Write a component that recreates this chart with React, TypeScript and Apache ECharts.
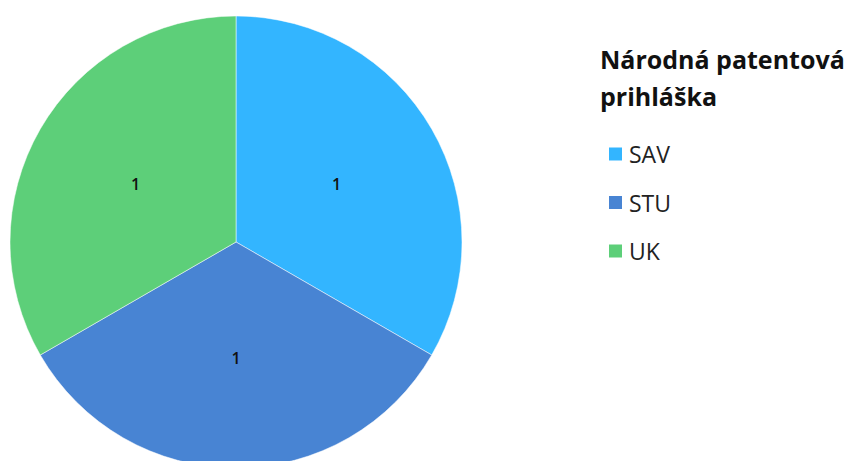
import React, { useEffect, useRef } from "react";
import * as echarts from "echarts";

const titleText = "Národná patentová\nprihláška";
const categories = ["SAV", "STU", "UK"];
const values = [1, 1, 1];
const colors = ["#33b5ff", "#4884d3", "#5dcf79"];

export default function App() {
  const ref = useRef<HTMLDivElement>(null);
  useEffect(() => {
    if (!ref.current) return;
    const chart = echarts.init(ref.current, null, { renderer: "svg" });
    chart.setOption({
      animation: false,
      color: colors,
      title: {
        text: titleText,
        left: 595,
        top: 35,
        textStyle: {
          fontFamily: "Open Sans",
          fontSize: 25,
          fontWeight: "bold",
          color: "#111",
          lineHeight: 37,
        },
      },
      legend: {
        orient: "vertical",
        left: 602,
        top: 136,
        icon: "rect",
        itemWidth: 15,
        itemHeight: 15,
        itemGap: 22.5,
        data: categories,
        textStyle: {
          fontFamily: "Open Sans",
          fontSize: 23,
          color: "#222",
          padding: [0, 0, 0, 1],
          lineHeight: 26,
        },
      },
      series: [
        {
          type: "pie",
          center: [236, 242],
          radius: 226,
          startAngle: 90,
          clockwise: true,
          data: categories.map((c, i) => ({ name: c, value: values[i] })),
          label: {
            show: true,
            position: "inside",
            formatter: "{c}",
            fontFamily: "Open Sans",
            fontSize: 16,
            fontWeight: 600,
            color: "#111",
          },
          labelLine: { show: false },
          itemStyle: { borderColor: "#ffffff", borderWidth: 0.5 },
          emphasis: { disabled: true },
        },
      ],
    });
    return () => chart.dispose();
  }, []);
  return (
    <div
      ref={ref}
      style={{ position: "absolute", left: 0, top: 0, width: 845, height: 461 }}
    />
  );
}
